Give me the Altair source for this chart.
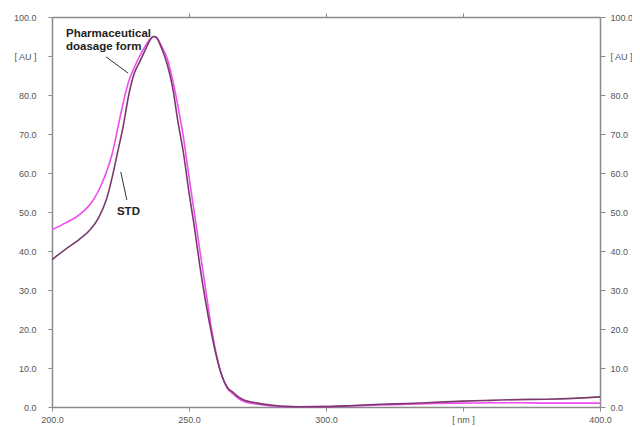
import altair as alt
import pandas as pd

nm_pharma = [200, 205, 210, 215, 218, 220, 222, 224, 226, 228, 230, 232, 234, 236, 237, 238, 240, 242, 244, 246, 248, 250, 252, 254, 256, 258, 260, 262, 264, 266, 268, 270, 275, 280, 285, 290, 300, 310, 320, 330, 340, 350, 360, 370, 380, 390, 400]
au_pharma = [45.5, 47.2, 49.3, 53.0, 57.0, 60.5, 65.0, 71.5, 78.0, 83.5, 87.0, 90.0, 92.5, 94.5, 95.0, 94.8, 92.5, 89.5, 84.0, 77.0, 69.0, 59.0, 49.5, 40.0, 30.5, 21.0, 13.5, 8.0, 4.8, 3.4, 2.2, 1.4, 0.7, 0.3, 0.1, 0.05, 0.1, 0.3, 0.5, 0.7, 0.9, 1.0, 1.1, 1.1, 1.0, 1.0, 1.0]

nm_std = [200, 205, 210, 214, 217, 220, 222, 224, 226, 228, 230, 232, 234, 236, 237, 238, 240, 242, 244, 246, 248, 250, 252, 254, 256, 258, 260, 262, 264, 266, 268, 270, 275, 280, 285, 290, 300, 310, 320, 330, 340, 350, 360, 370, 380, 390, 400]
au_std = [37.8, 40.5, 43.0, 45.5, 48.5, 53.5, 59.0, 65.5, 72.0, 80.0, 85.5, 88.5, 91.5, 94.3, 95.0, 94.8, 92.0, 88.0, 82.0, 73.0, 65.0, 55.0, 46.0, 36.0, 27.3, 19.6, 13.0, 8.0, 5.0, 3.8, 2.6, 1.8, 1.0, 0.5, 0.15, 0.05, 0.1, 0.4, 0.7, 0.9, 1.2, 1.5, 1.7, 1.9, 2.0, 2.2, 2.6]

y_ticks = [0, 10, 20, 30, 40, 50, 60, 70, 80, 90, 100]
x_ticks = [200, 250, 300, 350, 400]

label_pharma = ["Pharmaceutical", "doasage form"]
label_std = "STD"

pharma_df = pd.DataFrame({"nm": nm_pharma, "au": au_pharma})
std_df = pd.DataFrame({"nm": nm_std, "au": au_std})

X_DOM = [200, 400]
Y_DOM = [0, 100]
AXIS_COLOR = "#8a8a8a"
LABEL_COLOR = "#555555"

xs = alt.Scale(domain=X_DOM, nice=False, zero=False)
ys = alt.Scale(domain=Y_DOM, nice=False)

common_axis = dict(domainColor=AXIS_COLOR, tickColor=AXIS_COLOR, labelColor=LABEL_COLOR,
                   labelFont="Liberation Sans", labelFontSize=9, grid=False, title=None,
                   domainWidth=1.5, tickWidth=1, labelFlush=False, labelOverlap=False)

y_lab = "datum.value == 90 ? '[ AU ]' : format(datum.value, '.1f')"
x_lab = "datum.value == 350 ? '[ nm ]' : format(datum.value, '.1f')"

pharma = alt.Chart(pharma_df).mark_line(color="#f04cf0", strokeWidth=1.6, interpolate="monotone").encode(
    x=alt.X("nm:Q", scale=xs, axis=alt.Axis(orient="bottom", values=x_ticks, labelExpr=x_lab,
                                            tickSize=4, labelPadding=4, **common_axis)),
    y=alt.Y("au:Q", scale=ys, axis=alt.Axis(orient="left", values=y_ticks, labelExpr=y_lab,
                                            tickSize=4, labelPadding=12, **common_axis)),
)

std = alt.Chart(std_df).mark_line(color="#7a3a6c", strokeWidth=1.6, interpolate="monotone").encode(
    x=alt.X("nm:Q", scale=xs, axis=alt.Axis(orient="top", values=[250, 300, 350], labels=False,
                                            tickSize=4, **common_axis)),
    y=alt.Y("au:Q", scale=ys, axis=alt.Axis(orient="right", values=y_ticks, labelExpr=y_lab,
                                            tickSize=5, labelPadding=5, **common_axis)),
)

leader_df = pd.DataFrame({
    "x": [219.7, 225.1], "y": [89.8, 60.3],
    "x2": [227.8, 227.3], "y2": [85.6, 53.1],
})
leaders = alt.Chart(leader_df).mark_rule(color="#333333", strokeWidth=1).encode(
    x=alt.X("x:Q", scale=xs, axis=None), y=alt.Y("y:Q", scale=ys, axis=None),
    x2="x2:Q", y2="y2:Q",
)

text_df = pd.DataFrame({
    "x": [205.1, 205.1, 223.7],
    "y": [94.9, 91.5, 49.2],
    "t": [label_pharma[0], label_pharma[1], label_std],
})
texts = alt.Chart(text_df).mark_text(align="left", baseline="alphabetic", font="Liberation Sans",
                                      fontWeight="bold", fontSize=11.5, color="#222222").encode(
    x=alt.X("x:Q", scale=xs, axis=None), y=alt.Y("y:Q", scale=ys, axis=None), text="t:N",
)

chart = alt.layer(pharma, std, leaders, texts).resolve_scale(
    x="independent", y="independent"
).properties(
    width=548, height=390,
    padding={"left": 44, "top": 9, "right": 32, "bottom": 20},
    autosize="none",
).configure_view(stroke=None).configure(background="white")

chart.save("out.html", embed_options={"renderer": "svg", "actions": False})
